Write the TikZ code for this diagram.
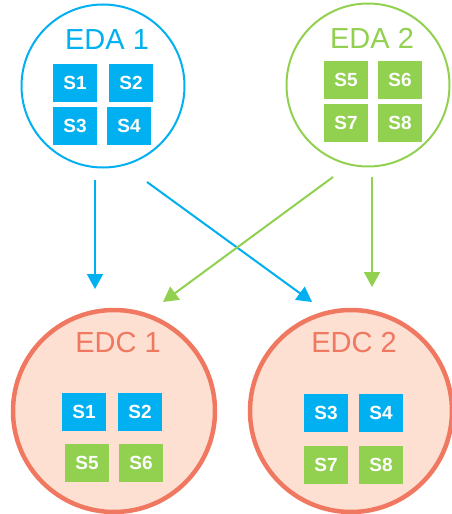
\documentclass[tikz,border=0pt]{standalone}
\usepackage{fontspec}
\setmainfont{Liberation Sans}
\usetikzlibrary{arrows.meta,positioning}
\definecolor{edablue}{HTML}{00B0F0}
\definecolor{edagreen}{HTML}{92D050}
\definecolor{edcline}{HTML}{F07860}
\definecolor{edcfill}{HTML}{FDE0D2}
\tikzset{
  eda/.style={circle, draw, line width=2pt, minimum size=163pt, inner sep=0pt},
  edc/.style={circle, draw=edcline, fill=edcfill, line width=4.5pt, minimum size=202pt, inner sep=0pt},
  title/.style={font=\fontsize{29}{29}\selectfont},
  svc/.style={rectangle, text=white, minimum width=44pt, minimum height=38pt, inner sep=0pt,
    font=\bfseries\fontsize{19}{19}\selectfont},
  bsvc/.style={svc, fill=edablue},
  gsvc/.style={svc, fill=edagreen},
  flow/.style={-{Triangle[length=15pt,width=16pt]}, line width=2pt}
}
\begin{document}
\begin{tikzpicture}[x=1pt, y=-1pt]
  \useasboundingbox (0,0) rectangle (452,514);
  % sources
  \node[eda, draw=edablue] (EDA1) at (103,86) {};
  \node[eda, draw=edagreen] (EDA2) at (368,85) {};
  \node[title, text=edablue] (T1) at (107,40) {EDA 1};
  \node[title, text=edagreen] (T2) at (372,38) {EDA 2};
  \node[bsvc] (a1) at (75,83) {S1};
  \node[bsvc] (a2) at (131,83) {S2};
  \node[bsvc] (a3) at (75,126) {S3};
  \node[bsvc] (a4) at (129,126) {S4};
  \node[gsvc] (a5) at (346,80) {S5};
  \node[gsvc] (a6) at (400,80) {S6};
  \node[gsvc] (a7) at (346,123) {S7};
  \node[gsvc] (a8) at (400,123) {S8};
  % targets
  \node[edc] (EDC1) at (114,411) {};
  \node[edc] (EDC2) at (351,411) {};
  \node[title, text=edcline] (T3) at (118,343) {EDC 1};
  \node[title, text=edcline] (T4) at (354,343) {EDC 2};
  \node[bsvc] (c1) at (84,412) {S1};
  \node[bsvc] (c2) at (140,412) {S2};
  \node[gsvc] (c5) at (87,463) {S5};
  \node[gsvc] (c6) at (141,463) {S6};
  \node[bsvc] (d3) at (326,413) {S3};
  \node[bsvc] (d4) at (381,413) {S4};
  \node[gsvc] (d7) at (326,465) {S7};
  \node[gsvc] (d8) at (381,465) {S8};
  % arrow ends
  \coordinate (b1s) at (95,180);
  \coordinate (b1e) at (95,289);
  \coordinate (b2s) at (147,182);
  \coordinate (b2e) at (312,302);
  \coordinate (g1s) at (333,177);
  \coordinate (g1e) at (163,302);
  \coordinate (g2s) at (372,177);
  \coordinate (g2e) at (372,287);
  \draw[flow, edablue] (b1s) -- (b1e);
  \draw[flow, edablue] (b2s) -- (b2e);
  \draw[flow, edagreen] (g1s) -- (g1e);
  \draw[flow, edagreen] (g2s) -- (g2e);
\end{tikzpicture}
\end{document}
